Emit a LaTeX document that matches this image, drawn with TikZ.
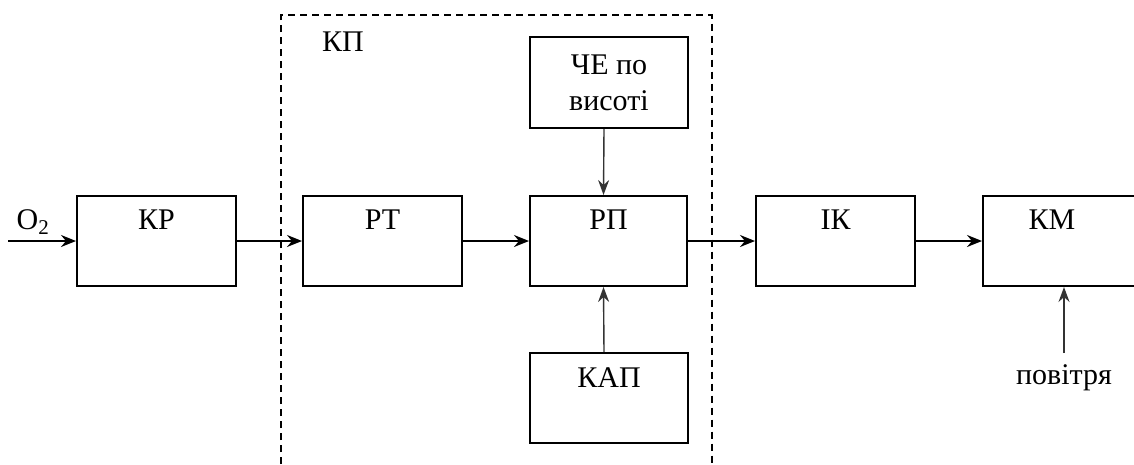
\documentclass[tikz,border=0pt]{standalone}
\usepackage{fontspec}
\setmainfont{Liberation Serif}
\usetikzlibrary{arrows.meta,calc}
\begin{document}
\begin{tikzpicture}[x=1pt,y=-1pt,
  font=\fontsize{30}{36}\selectfont,
  blk/.style={draw, line width=2pt, minimum width=#1, minimum height=90pt, inner sep=0pt},
  blk/.default=159pt,
  lbl/.style={anchor=north, yshift=-15pt, inner sep=0pt},
  arr/.style={line width=2pt, -{Stealth[length=15pt,width=12pt,inset=5pt]}},
  varr/.style={line width=1.4pt, draw=black!80, -{Stealth[length=15pt,width=11pt,inset=5pt]}},
  frame/.style={line width=2pt, dash pattern=on 7pt off 5pt}]
\useasboundingbox (0,0) rectangle (1134,464);
\clip (0,0) rectangle (1134,464);
% dashed frame
\draw[frame] (281,464) -- (281,15) -- (711.5,15) -- (711.5,464);
\node[anchor=center] (kplabel) at (343,42) {КП};
% blocks
\node[blk] (kr) at (156.5,241) {};
\node[lbl] at (kr.north) {КР};
\node[blk] (rt) at (382.5,241) {};
\node[lbl] at (rt.north) {РТ};
\node[blk=157pt] (rp) at (608.5,241) {};
\node[lbl] at (rp.north) {РП};
\node[blk=158pt, minimum height=91pt, align=center] (ce) at (609,82.5) {ЧЕ по\\висоті};
\node[blk=158pt] (kap) at (609,398) {};
\node[lbl] at (kap.north) {КАП};
\node[blk] (ik) at (835.5,241) {};
\node[lbl] at (ik.north) {ІК};
\node[blk=200pt] (km) at (1083,241) {};
\node[lbl, xshift=-31pt] at (km.north) {КМ};
% inputs
\coordinate (o2) at (8,241);
\node[anchor=center] (o2l) at (33,222) {O\textsubscript{2}};
\coordinate (air) at (1064,353);
\node[anchor=center] (airl) at (1064,378) {повітря};
% connectors
\draw[arr] (o2) -- (kr.west);
\draw[arr] (kr.east) -- (rt.west);
\draw[arr] (rt.east) -- (rp.west);
\draw[arr] (rp.east) -- (ik.west);
\draw[arr] (ik.east) -- (km.west);
\draw[varr] ([xshift=-5pt]ce.south) -- ([xshift=-5pt]rp.north);
\draw[varr] ([xshift=-5pt]kap.north) -- ([xshift=-5pt]rp.south);
\draw[varr] (air) -- (air |- km.south);
\end{tikzpicture}
\end{document}
